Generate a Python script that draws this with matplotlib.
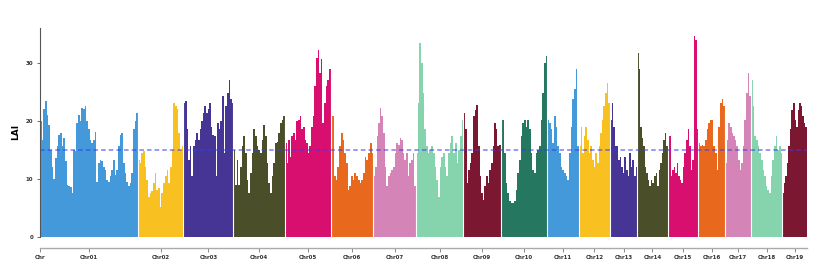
import matplotlib.pyplot as plt
import numpy as np

# chromosome names and lengths (Mb)
chroms = ["Chr01", "Chr02", "Chr03", "Chr04", "Chr05", "Chr06", "Chr07", "Chr08", "Chr09", "Chr10",
          "Chr11", "Chr12", "Chr13", "Chr14", "Chr15", "Chr16", "Chr17", "Chr18", "Chr19"]
chrom_len = [49.0, 22.8, 25.0, 25.8, 22.9, 21.3, 21.4, 23.7, 18.7, 23.3,
             15.9, 15.5, 13.7, 15.2, 15.3, 13.4, 13.0, 15.7, 12.2]

# LAI values along each chromosome (evenly spaced windows)
lai = {
    "Chr01": [20, 16.7, 22, 23.4, 21, 19.3, 15, 12, 10, 13.5, 15.6, 17.6, 17.9, 15.6, 17, 13, 9, 8.8, 8.5, 7.5,
              15, 14.7, 19.6, 21, 20, 22.2, 22, 22.5, 20, 18.5, 16.7, 16.2, 16.7, 18, 9.5, 12.7, 13.3, 13, 12, 11.5,
              9.8, 9.5, 10.4, 11.5, 13.3, 10.7, 11.5, 15.6, 17.6, 17.9, 12.7, 11, 9.5, 8.7, 9.2, 11, 18.5, 20, 21.4],
    "Chr02": [13.3, 12.7, 14.4, 14.7, 12, 9.8, 6.9, 7.5, 7.8, 9.2, 11, 8, 8.4, 5.2, 7.5, 9.2, 10.4, 11.5, 9.2,
              12.1, 15, 23, 22.5, 22, 17.9, 15, 15.6],
    "Chr03": [23, 23.4, 18.5, 13.3, 15.6, 10.4, 15.6, 16.7, 17.9, 16.7, 18.5, 20, 21.4, 22.5, 21.4, 22, 23, 19,
              17.6, 17.3, 10.4, 19.6, 18.5, 20, 24.2, 14.4, 22.5, 24.8, 27.1, 23.7, 23],
    "Chr04": [15, 8.9, 13.3, 8.9, 12, 15.6, 17.3, 14.4, 9.8, 7.5, 11, 14.4, 18.5, 17.3, 15.6, 15, 14.4, 16.7,
              19.3, 17.3, 12.7, 9.2, 7.5, 10.4, 12.7, 16.2, 16.4, 17.9, 19.6, 20.2, 20.8],
    "Chr05": [16.2, 12.7, 16.7, 13.8, 17.3, 17.9, 16.7, 19.9, 20.2, 20.8, 18.5, 19, 16.7, 16.2, 14.4, 15.6, 19,
              20.8, 26, 30.9, 32.3, 28.3, 30.6, 19.6, 23, 26, 27.1, 28.9],
    "Chr06": [22.2, 20.8, 10.4, 9.8, 12, 15.6, 17.9, 16.7, 14.4, 12.7, 8, 8.7, 10.4, 9.8, 11, 10.4, 9.8, 9.2,
              9.8, 11, 13.8, 13.3, 14.4, 16.2, 14.4],
    "Chr07": [10.4, 12, 17.3, 19.6, 22.2, 20.8, 17.9, 12, 8.7, 10.4, 11, 11.5, 12, 14.4, 16.2, 15.9, 17, 16.7,
              14.4, 13.3, 14.4, 10.4, 12.7, 13.3, 14.4, 8.7],
    "Chr08": [14.4, 23, 33.5, 30, 24.8, 18.5, 15.6, 14.4, 15, 15.6, 14.4, 12, 9.8, 6.9, 12, 13.8, 14.4, 12,
              10.4, 14.4, 16.2, 17.3, 14.4, 16.2, 12.7, 15, 17.3, 20.2],
    "Chr09": [21.3, 18.5, 9.2, 11.5, 12.7, 14.4, 20.8, 21.9, 22.8, 15.6, 10.4, 7.5, 6.3, 8.7, 10.4, 9.2, 11.5,
              12.7, 15.6, 19.6, 18.5, 15.6, 15.9],
    "Chr10": [19, 20.2, 14.4, 9.2, 7.5, 6.1, 5.8, 5.8, 6.1, 8, 11, 13.3, 17.3, 19.6, 20.2, 19, 20.2, 18.5, 14.4,
              11.5, 11, 14.4, 15, 15.6, 20.2, 24.8, 30, 31.2],
    "Chr11": [20.2, 19.6, 18.5, 16.2, 20.8, 19, 15.6, 14.4, 12, 11.5, 11, 10.4, 9.8, 14.4, 19, 23.7, 25.4,
              28.9, 15.6],
    "Chr12": [15.6, 19, 14.4, 17.3, 19, 16.7, 14.4, 15.6, 13.3, 12, 14.4, 12.7, 15.6, 17.9, 20.2, 22.5, 24.8,
              26.5, 23],
    "Chr13": [20.2, 23, 19, 15.6, 15.6, 13.3, 13.8, 12, 11, 13.8, 11.5, 10.4, 14.4, 12, 13.3, 10.4, 12],
    "Chr14": [31.7, 28.9, 19, 17, 15.6, 12, 11, 9.8, 8.7, 9.8, 9.2, 10.4, 11, 8.7, 11.5, 12.7, 14.4, 16.7,
              17.9, 15.6],
    "Chr15": [20.2, 17.3, 10.4, 11.5, 12, 11, 12.7, 10.4, 9.8, 9.2, 12, 14.4, 16.7, 18.5, 15.6, 11.5, 13.3,
              34.6, 34, 18.5],
    "Chr16": [16.2, 15.6, 15.9, 15.6, 16.7, 18.5, 19.6, 20.2, 20.2, 15.6, 14.4, 11.5, 19, 23, 23.7, 22.5],
    "Chr17": [12.7, 16.7, 19.6, 19, 17.9, 17.3, 16.7, 15.6, 13.3, 11.5, 12.7, 15.6, 20.2, 24.8, 28.3, 24.2],
    "Chr18": [27.1, 22.5, 17.3, 16.7, 15.6, 14.4, 13.3, 11.5, 10.4, 8.7, 8, 7.5, 10.4, 13.3, 15.6, 17.3, 15,
              15.6, 14.4],
    "Chr19": [7.5, 9.2, 10.4, 12.7, 15.6, 18.5, 21.9, 23, 20.2, 19, 21.9, 23, 22.5, 20.8, 19.6, 19],
}

threshold = 15

palette = ["#4499DA", "#F9C022", "#463595", "#4B4F29", "#D80F6F",
           "#E8691D", "#D584B8", "#85D4AD", "#7C1731", "#25775F"]

fig = plt.figure(figsize=(8.28, 2.65), dpi=100)
ax = fig.add_axes([0.0483, 0.107, 0.926, 0.787])

offset = 0.0
centers = []
bounds = []
for i, name in enumerate(chroms):
    L = chrom_len[i]
    vals = np.array(lai[name])
    edges = offset + np.linspace(0, L, len(vals) + 1)
    ax.stairs(vals, edges, fill=True, color=palette[i % len(palette)], linewidth=0)
    centers.append(offset + L / 2)
    offset += L
    bounds.append(offset)

# thin white separators between chromosomes
for b in bounds[:-1]:
    ax.axvline(b, color="white", lw=0.8)

ax.axhline(threshold, color="#3a3af0", lw=1.1, ls=(0, (3, 2)), alpha=0.65)

ax.set_xlim(0, offset)
ax.set_ylim(0, 36)

ax.spines["top"].set_visible(False)
ax.spines["right"].set_visible(False)
ax.spines["bottom"].set_position(("outward", 8))
ax.spines["bottom"].set_color("#aaaaaa")
ax.spines["bottom"].set_linewidth(1.0)
ax.spines["left"].set_color("#555555")
ax.spines["left"].set_linewidth(0.8)
ax.tick_params(axis="x", length=3, width=0.6, color="#777777", pad=2)
ax.tick_params(axis="y", length=2, width=0.6, color="#555555", pad=3)

ax.set_xticks([0] + centers)
ax.set_xticklabels(["Chr"] + chroms, fontsize=4, fontweight="bold", color="#333333")
ax.set_yticks([0, 10, 20, 30])
ax.set_yticklabels(["0", "10", "20", "30"], fontsize=4, fontweight="bold", color="#333333")

ax.set_ylabel("LAI", fontsize=6.5, fontweight="bold", labelpad=4)

fig.savefig("out.png", dpi=100)
